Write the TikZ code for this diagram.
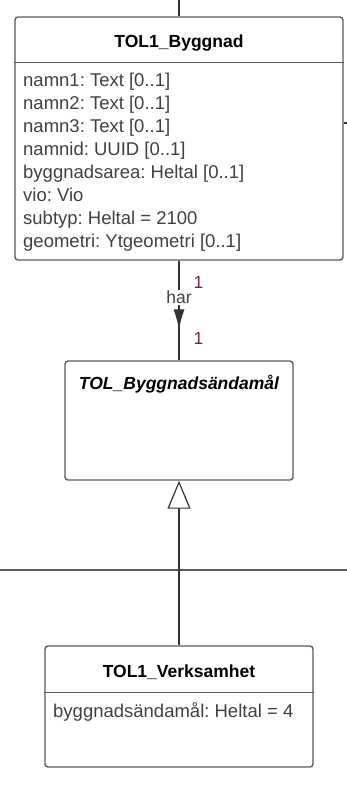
\documentclass[tikz,border=0pt]{standalone}
\usepackage{fontspec}
\setmainfont{Liberation Sans}
\usetikzlibrary{arrows.meta,calc,positioning,decorations.markings}
\frenchspacing
\definecolor{attrgray}{RGB}{64,64,64}
\definecolor{multred}{RGB}{110,40,60}
\definecolor{boxline}{RGB}{90,90,90}
\tikzset{
    classbox/.style={rectangle, draw=boxline, line width=1.4pt, rounded corners=3pt, fill=white, inner sep=0pt},
    classname/.style={font=\fontsize{17.5}{21}\selectfont\bfseries, inner sep=0pt},
    attr/.style={font=\fontsize{18.5}{22.86}\selectfont, text=attrgray, align=left, inner sep=0pt},
    mult/.style={font=\fontsize{17.5}{21}\selectfont, text=multred, inner sep=0pt},
    conn/.style={draw=black!80, line width=1.2pt},
    divider/.style={draw=boxline, line width=1.4pt}
}

\begin{document}
\begin{tikzpicture}[x=1pt,y=-1pt]
    \useasboundingbox (0,0) rectangle (347,793);

    % TOL1_Byggnad
    \node[classbox, minimum width=328pt, minimum height=243pt] (byg) at (179,138.5) {};
    \node[classname] (bygname) at ($(byg.north)+(0,27)$) {TOL1\_Byggnad};
    \draw[divider] ($(byg.north west)+(0,46)$) -- ($(byg.north east)+(0,46)$);
    % base = last line
    \node[attr, anchor=base west] (bygattr) at (23,247) {namn1: Text [0..1]\\namn2: Text [0..1]\\namn3: Text [0..1]\\namnid: UUID [0..1]\\byggnadsarea: Heltal [0..1]\\vio: Vio\\subtyp: Heltal = 2100\\geometri: Ytgeometri [0..1]};

    % TOL_Byggnadsändamål
    \node[classbox, minimum width=228pt, minimum height=119pt] (andamal) at (179,420.5) {};
    \node[classname, font=\fontsize{17.5}{21}\selectfont\bfseries\itshape] (andamalname) at ($(andamal.north)+(0,24)$) {TOL\_Byggnadsändamål};

    % TOL1_Verksamhet
    \node[classbox, minimum width=268pt, minimum height=121pt] (verk) at (179,706.5) {};
    \node[classname] (verkname) at ($(verk.north)+(0,27)$) {TOL1\_Verksamhet};
    \draw[divider] ($(verk.north west)+(0,47)$) -- ($(verk.north east)+(0,47)$);
    \node[attr, anchor=base west] (verkattr) at (53,717) {byggnadsändamål: Heltal = 4};

    % connectors
    \coordinate (topend) at (179,0);
    \coordinate (sideend) at (347,123);
    \coordinate (hleft) at (0,570);
    \coordinate (hright) at (347,570);
    \draw[conn] (topend) -- (byg.north);
    \draw[conn] (byg.east |- sideend) -- (sideend);
    \draw[conn, draw=black!65, line width=1.5pt] (hleft) -- (hright);
    \draw[conn, postaction={decorate},
        decoration={markings, mark=at position 0.69 with {\arrow{Latex[length=20pt,width=11pt]}}}]
        (byg.south) -- node[pos=0.37, fill=white, inner sep=1pt, text=attrgray, font=\fontsize{17.5}{21}\selectfont] (har) {har}
        node[mult, pos=0.22, anchor=west, xshift=14pt] (m1) {1}
        node[mult, pos=0.78, anchor=west, xshift=14pt] (m2) {1} (andamal.north);
    \draw[conn, -{Triangle[open, length=28pt, width=23pt, fill=white]}] (verk.north) -- (andamal.south);
\end{tikzpicture}
\end{document}
